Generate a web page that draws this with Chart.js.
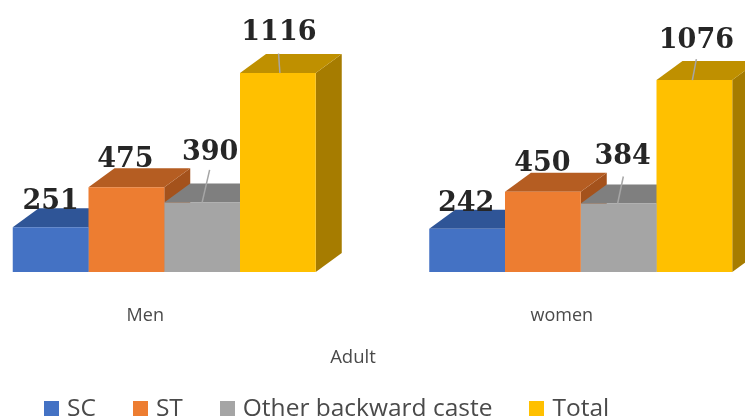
<!DOCTYPE html>
<html>
<head>
<meta charset="utf-8">
<script src="https://cdn.jsdelivr.net/npm/chart.js@4/dist/chart.umd.min.js"></script>
<style>
    html, body { margin: 0; padding: 0; background: #fff; width: 745px; height: 419px; overflow: hidden; }
    #wrap { position: relative; width: 745px; height: 419px; overflow: hidden; }
    /* canvas runs past the window on both sides, the original is cropped like that */
    #chart { position: absolute; left: -44px; top: 0; }
    #axisTitle { position: absolute; left: 253px; width: 200px; top: 343px; text-align: center; font: 18.5px "Open Sans"; color: #4a4a4a; }
    #legend { position: absolute; left: 44px; top: 392px; display: flex; gap: 37px; font: 24.5px "Open Sans"; color: #4a4a4a; line-height: 30px; white-space: nowrap; }
    #legend div { display: flex; align-items: center; gap: 8px; }
    #legend i { display: block; width: 15px; height: 15px; margin-top: 2px; }
</style>
</head>
<body>
<div id="wrap">
    <canvas id="chart" width="833" height="419"></canvas>
    <div id="axisTitle"></div>
    <div id="legend"></div>
</div>
<script>
const categories = ["Men", "women"];
const axisTitle = "Adult";
const seriesNames = ["SC", "ST", "Other backward caste", "Total"];
const scValues = [251, 242];
const stValues = [475, 450];
const otherValues = [390, 384];
const totalValues = [1116, 1076];

const frontColors = ["#4472c4", "#ed7d31", "#a5a5a5", "#ffc000"];
const topColors = ["#2f5597", "#b55d22", "#7f7f7f", "#bf9000"];
const sideColors = ["#264478", "#a4521c", "#6b6b6b", "#a67c00"];

// depth of the fake 3D box
const depthX = 26;
const depthY = 19;

// label position relative to bar centre / bar top, [series][category]
const labelOffsets = [
    [[0, -25.5], [-1, -25]],
    [[-1, -27], [-0.5, -28]],
    [[8, -49], [4, -47]],
    [[1, -40], [2, -39]],
];

// leader lines: [start dx, end dx, end dy]
const leaderLines = {
    2: [[0, 7.5, -32.5], [-1, 4.7, -27]],
    3: [[2, 0.7, -19.5], [-2, 2, -21]],
};

const seriesValues = [scValues, stValues, otherValues, totalValues];

function fillShape(ctx, points, color) {
    ctx.fillStyle = color;
    ctx.beginPath();
    points.forEach((p, i) => (i ? ctx.lineTo(p[0], p[1]) : ctx.moveTo(p[0], p[1])));
    ctx.closePath();
    ctx.fill();
}

// Top and side faces go under the bars, the bars are the front faces
const boxFaces = {
    id: "boxFaces",
    beforeDatasetsDraw(chart) {
        const ctx = chart.ctx;
        ctx.save();
        seriesValues.forEach((values, s) => {
            chart.getDatasetMeta(s).data.forEach((bar) => {
                const left = bar.x - bar.width / 2;
                const right = bar.x + bar.width / 2;
                fillShape(ctx, [[right, bar.y], [right + depthX, bar.y - depthY], [right + depthX, bar.base - depthY], [right, bar.base]], sideColors[s]);
                fillShape(ctx, [[left, bar.y], [left + depthX, bar.y - depthY], [right + depthX, bar.y - depthY], [right, bar.y]], topColors[s]);
            });
        });
        ctx.restore();
    },
    afterDatasetsDraw(chart) {
        const ctx = chart.ctx;
        ctx.save();
        ctx.textAlign = "center";
        ctx.textBaseline = "middle";
        ctx.font = "bold 27px 'DejaVu Serif'";
        seriesValues.forEach((values, s) => {
            chart.getDatasetMeta(s).data.forEach((bar, c) => {
                if (leaderLines[s]) {
                    const line = leaderLines[s][c];
                    ctx.strokeStyle = "#a6a6a6";
                    ctx.lineWidth = 1.5;
                    ctx.beginPath();
                    ctx.moveTo(bar.x + line[0], bar.y);
                    ctx.lineTo(bar.x + line[1], bar.y + line[2]);
                    ctx.stroke();
                }
                ctx.fillStyle = "#262626";
                ctx.fillText(values[c], bar.x + labelOffsets[s][c][0], bar.y + labelOffsets[s][c][1]);
            });
        });
        ctx.restore();
    },
};

const chart = new Chart(document.getElementById("chart").getContext("2d"), {
    type: "bar",
    data: {
        labels: categories,
        datasets: seriesNames.map((name, i) => ({
            label: name,
            data: seriesValues[i],
            backgroundColor: frontColors[i],
            borderWidth: 0,
            categoryPercentage: 0.7275,
            barPercentage: 1,
        })),
    },
    options: {
        responsive: false,
        animation: false,
        layout: { padding: { bottom: 67.4 } },
        plugins: {
            legend: { display: false },
            tooltip: { enabled: false },
        },
        scales: {
            x: {
                grid: { display: false },
                border: { display: false },
                ticks: {
                    padding: 25,
                    labelOffset: -19,
                    color: "#4a4a4a",
                    font: { family: "Open Sans", size: 18 },
                },
            },
            y: { display: false, min: 0, max: 1525 },
        },
    },
    plugins: [boxFaces],
});

// Legend and axis title sit off-centre in the original, so they are built outside the canvas
document.getElementById("axisTitle").textContent = axisTitle;
const legendBox = document.getElementById("legend");
chart.data.datasets.forEach((ds) => {
    const item = document.createElement("div");
    const swatch = document.createElement("i");
    swatch.style.background = ds.backgroundColor;
    const text = document.createElement("span");
    text.textContent = ds.label;
    item.append(swatch, text);
    legendBox.append(item);
});
</script>
</body>
</html>
